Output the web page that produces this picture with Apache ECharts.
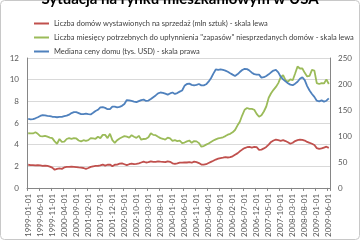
<!DOCTYPE html>
<html>
<head>
<meta charset="utf-8">
<script src="https://cdn.jsdelivr.net/npm/echarts@6/dist/echarts.min.js"></script>
<style>
  html, body { margin: 0; padding: 0; background: #fff; }
  #chart { width: 360px; height: 240px; }
</style>
</head>
<body>
<div id="chart"></div>
<script>
// miesiace 1999-01 .. 2009-06
var months = [];
for (var y = 1999; y <= 2009; y++)
{
    for (var m = 1; m <= 12; m++)
    {
        if (months.length < 126) months.push(y + '-' + (m < 10 ? '0' + m : m) + '-01');
    }
}

// liczba domow wystawionych na sprzedaz (mln sztuk) - lewa os
var housesForSale = [
    2.14, 2.11, 2.11, 2.08, 2.11, 2.08, 2.03, 2.06, 2.03, 1.97,
    1.87, 1.68, 1.76, 1.81, 1.76, 1.89, 1.95, 1.95, 1.97, 1.95,
    1.92, 1.89, 1.87, 1.84, 1.76, 1.84, 1.95, 2.0, 2.03, 2.03,
    2.08, 2.16, 2.06, 2.14, 2.16, 2.0, 2.14, 2.16, 2.24, 2.27,
    2.19, 2.11, 2.19, 2.24, 2.19, 2.22, 2.27, 2.35, 2.43, 2.35,
    2.38, 2.46, 2.41, 2.41, 2.46, 2.43, 2.41, 2.38, 2.46, 2.41,
    2.27, 2.22, 2.27, 2.33, 2.33, 2.35, 2.35, 2.38, 2.33, 2.43,
    2.38, 2.3, 2.16, 2.16, 2.19, 2.3, 2.41, 2.51, 2.62, 2.7,
    2.76, 2.79, 2.84, 2.81, 2.84, 2.92, 3.06, 3.19, 3.38, 3.54,
    3.68, 3.76, 3.79, 3.73, 3.79, 3.76, 3.52, 3.54, 3.65, 3.79,
    4.0, 4.25, 4.38, 4.46, 4.41, 4.35, 4.41, 4.33, 4.22, 4.08,
    4.17, 4.33, 4.41, 4.46, 4.44, 4.38, 4.25, 4.17, 4.08, 3.97,
    3.68, 3.6, 3.65, 3.73, 3.81, 3.7
];

// liczba miesiecy potrzebnych do uplynnienia zapasow - lewa os
var monthsSupply = [
    5.05, 5.03, 5.03, 5.14, 5.0, 4.79, 4.76, 4.81, 4.73, 4.65,
    4.6, 4.3, 4.08, 4.52, 4.25, 4.27, 4.52, 4.6, 4.54, 4.6,
    4.57, 4.38, 4.3, 4.41, 4.35, 4.41, 4.6, 4.57, 4.54, 4.73,
    4.6, 4.9, 4.9, 4.6, 5.0, 4.41, 4.17, 4.41, 4.57, 4.68,
    4.79, 4.73, 4.65, 4.87, 4.73, 4.62, 4.81, 4.46, 4.52, 4.54,
    4.68, 5.05, 4.9, 4.87, 4.73, 4.6, 4.54, 4.46, 4.65, 4.57,
    4.35, 4.41, 4.33, 4.38, 4.14, 4.19, 4.3, 4.38, 4.17, 4.33,
    4.3, 4.14, 3.81, 3.87, 4.0, 4.11, 4.25, 4.38, 4.49, 4.57,
    4.62, 4.68, 4.79, 4.92, 5.0, 5.14, 5.35, 5.76, 6.11, 6.71,
    7.22, 7.38, 7.3, 7.3, 7.22, 6.84, 6.57, 6.71, 7.06, 7.52,
    8.33, 8.74, 9.06, 9.33, 9.68, 10.22, 10.41, 9.95, 9.81, 10.03,
    9.95, 10.57, 11.22, 11.03, 11.03, 10.63, 10.3, 10.35, 10.9, 10.84,
    9.68, 9.6, 9.68, 9.65, 10.03, 9.6
];

// mediana ceny domu (tys. USD) - prawa os
var medianPrice = [
    133, 132, 132.4, 134, 136, 138.5, 140, 139.6, 138.5, 138,
    137, 136.6, 136, 136.6, 136.6, 138, 139, 141, 144, 145.7,
    145.7, 144, 142, 142, 143, 142, 141.5, 144.5, 148, 150.4,
    155, 155.5, 154, 151.5, 151.5, 156.6, 156.6, 155, 156, 158,
    161.6, 169, 168.4, 167.3, 166, 165, 167, 169, 170, 167.3,
    168, 171, 174.6, 178, 182, 183.6, 183, 181.3, 179.5, 181.8,
    183.6, 180.8, 182.5, 185.3, 187.5, 196.5, 200, 200.6, 198.4, 197.3,
    198.4, 200, 197.3, 197.3, 199.4, 204.4, 211, 220, 228, 227,
    228, 227, 225.8, 223.5, 220.7, 218, 215.4, 218.5, 223, 227,
    229, 228.6, 225.8, 221.8, 219, 218, 218, 212.3, 213, 215.4,
    218.5, 222.4, 225.8, 227, 222.4, 214, 209, 205, 201.6, 198.8,
    197.7, 200.6, 204.4, 210, 213, 207.4, 196, 187.5, 180.8, 175.2,
    167.8, 166.7, 168.4, 166, 167.8, 172.3
];

var seriesNames = [
    'Liczba domów wystawionych na sprzedaż (mln sztuk) - skala lewa',
    'Liczba miesięcy potrzebnych do upłynnienia "zapasów" niesprzedanych domów - skala lewa',
    'Mediana ceny domu (tys. USD) - skala prawa'
];
var colors = ['#C0504D', '#9BBB59', '#4F81BD'];

var font = 'Lato, "Liberation Sans", sans-serif';
var myChart = echarts.init(document.getElementById('chart'));

option = {
    color: colors,
    animation: false,
    textStyle: { fontFamily: font },
    title: {
        text: 'Sytuacja na rynku mieszkaniowym w USA',
        left: 'center',
        top: -13,
        textStyle: { fontSize: 15, fontWeight: 'bold', color: '#000', fontFamily: font }
    },
    graphic: [
        {
            type: 'rect',
            shape: { x: 0.5, y: 0.5, width: 359, height: 239, r: 4 },
            style: { fill: 'none', stroke: '#c8c8c8', lineWidth: 1 },
            silent: true
        }
    ],
    legend: {
        orient: 'vertical',
        left: 29,
        top: 14,
        itemWidth: 15,
        itemHeight: 2,
        itemGap: 5,
        icon: 'rect',
        data: seriesNames.map(function (n, i)
        {
            return { name: n, itemStyle: { color: colors[i] } };
        }),
        textStyle: { fontSize: 7.5, lineHeight: 9, color: '#404040', fontFamily: font }
    },
    grid: {
        left: 27,
        right: 30,
        top: 58,
        bottom: 34,
        containLabel: false
    },
    xAxis: {
        type: 'category',
        data: months,
        boundaryGap: true,
        axisLine: { lineStyle: { color: '#868686' } },
        axisTick: { show: true, interval: 4, length: 3, lineStyle: { color: '#868686' } },
        axisLabel: {
            interval: 4,
            rotate: 90,
            fontSize: 8,
            color: '#595959',
            margin: 6,
            fontFamily: font
        },
        splitLine: { show: false }
    },
    yAxis: [
        {
            type: 'value',
            min: 0,
            max: 12,
            interval: 2,
            axisLine: { show: true, lineStyle: { color: '#868686' } },
            axisTick: { show: false },
            axisLabel: { fontSize: 8, color: '#595959', margin: 8, fontFamily: font },
            splitLine: { lineStyle: { color: '#d9d9d9' } }
        },
        {
            type: 'value',
            min: 0,
            max: 250,
            interval: 50,
            axisLine: { show: true, lineStyle: { color: '#868686' } },
            axisTick: { show: false },
            axisLabel: { fontSize: 8, color: '#595959', margin: 8, fontFamily: font },
            splitLine: { show: false }
        }
    ],
    series: [
        {
            name: seriesNames[0],
            type: 'line',
            yAxisIndex: 0,
            data: housesForSale,
            symbol: 'none',
            lineStyle: { width: 1.8 }
        },
        {
            name: seriesNames[1],
            type: 'line',
            yAxisIndex: 0,
            data: monthsSupply,
            symbol: 'none',
            lineStyle: { width: 1.8 }
        },
        {
            name: seriesNames[2],
            type: 'line',
            yAxisIndex: 1,
            data: medianPrice,
            symbol: 'none',
            lineStyle: { width: 1.8 }
        }
    ]
};
myChart.setOption(option);
</script>
</body>
</html>
